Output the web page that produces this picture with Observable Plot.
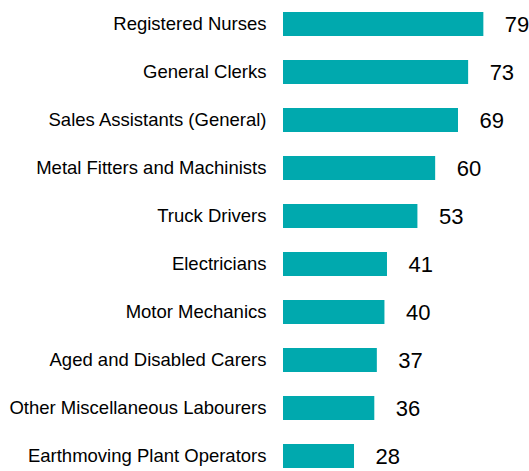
<!DOCTYPE html>
<html>
<head>
<meta charset="utf-8">
<script src="https://cdn.jsdelivr.net/npm/d3@7"></script>
<script src="https://cdn.jsdelivr.net/npm/@observablehq/plot@0.6"></script>
<style>
  html, body { margin: 0; padding: 0; background: #fff; }
</style>
</head>
<body>
<div id="chart"></div>
<script>
const occupations = [
  "Registered Nurses",
  "General Clerks",
  "Sales Assistants (General)",
  "Metal Fitters and Machinists",
  "Truck Drivers",
  "Electricians",
  "Motor Mechanics",
  "Aged and Disabled Carers",
  "Other Miscellaneous Labourers",
  "Earthmoving Plant Operators"
];
const values = [79, 73, 69, 60, 53, 41, 40, 37, 36, 28];

const data = occupations.map((o, i) => ({occupation: o, value: values[i]}));

const chart = Plot.plot({
  width: 529,
  height: 471,
  marginLeft: 283,
  marginRight: 0,
  marginTop: 0,
  marginBottom: 0,
  style: {fontFamily: "Liberation Sans, Arial, sans-serif", background: "#fff"},
  x: {domain: [0, 97], axis: null},
  y: {domain: occupations, range: [0, 480], paddingInner: 0.5, paddingOuter: 0.2, label: null},
  marks: [
    Plot.axisY({tickSize: 0, tickPadding: 17, fontSize: 18.5, fill: "#000", label: null}),
    Plot.barX(data, {x: "value", y: "occupation", fill: "#00A9AE"}),
    Plot.ruleX([0], {stroke: "#d4d4d4", strokeWidth: 1.5, y1: 0, y2: 471}),
    Plot.text(data, {x: "value", y: "occupation", text: d => String(d.value), textAnchor: "start", dx: 21, fontSize: 22, fill: "#000"})
  ]
});
document.getElementById("chart").appendChild(chart);
</script>
</body>
</html>
